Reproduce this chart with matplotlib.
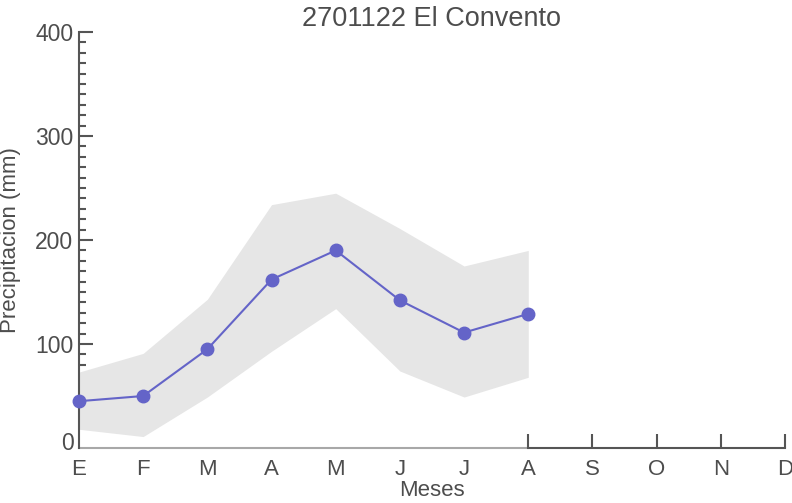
import numpy as np
import matplotlib
matplotlib.use("Agg")
import matplotlib.pyplot as plt
from matplotlib.ticker import FixedLocator
import matplotlib.transforms as mtransforms

# datos
meses = ["E", "F", "M", "A", "M", "J", "J", "A", "S", "O", "N", "D"]
precip = [45, 50, 95, 162, 190, 142, 111, 129]
banda_sup = [73, 91, 143, 234, 245, 211, 175, 190]
banda_inf = [18, 11, 49, 93, 134, 74, 49, 68]

gris = "#4d4d4d"
plt.rcParams["font.family"] = ["Liberation Sans", "DejaVu Sans"]

fig = plt.figure(figsize=(7.92, 5.03), dpi=100)
ax = fig.add_axes([79/792, 55/503, 706/792, 416/503])

x = np.arange(len(precip))
ax.fill_between(x, banda_inf, banda_sup, color="#e6e6e6", lw=0, zorder=1)
ax.plot(x, precip, color="#6464c8", lw=1.5, marker="o", ms=9, zorder=4,
        clip_on=False)

ax.set_xlim(0, 11)
ax.set_ylim(0, 400)

for s in ["top", "right", "bottom"]:
    ax.spines[s].set_visible(False)
ax.spines["left"].set_color("#555555")
ax.spines["left"].set_linewidth(1.5)

# eje x: linea clara hasta A, oscura despues
ax.plot([0, 7], [0, 0], color="#a8a8a8", lw=1.5, clip_on=False, zorder=2)
ax.plot([7, 11], [0, 0], color="#555555", lw=1.5, clip_on=False, zorder=2)

ax.set_xticks(range(12))
ax.set_xticklabels(meses)
ax.tick_params(axis="x", direction="in", length=10, width=1.5, color="#555555",
               labelsize=16, labelcolor=gris, pad=8)
for i, t in enumerate(ax.xaxis.get_major_ticks()):
    if i < 7:
        t.tick1line.set_visible(False)

ax.set_yticks([0, 100, 200, 300, 400])
ax.yaxis.set_minor_locator(FixedLocator([v for v in range(80, 400, 10) if v % 100]))
ax.tick_params(axis="y", which="major", direction="in", length=10, width=1.5,
               color="#555555", labelsize=16.5, labelcolor=gris, pad=4)
ax.tick_params(axis="y", which="minor", direction="in", length=5, width=1.5,
               color="#555555")
ytk = ax.yaxis.get_major_ticks()
ytk[0].tick1line.set_visible(False)
ytk[0].label1.set_transform(ytk[0].label1.get_transform() +
                            mtransforms.ScaledTranslation(0, 7/100, fig.dpi_scale_trans))

ax.set_title("2701122 El Convento", fontsize=19.5, color=gris, pad=4)
ax.set_xlabel("Meses", fontsize=16, color=gris, labelpad=0)
ax.set_ylabel("Precipitacion (mm)", fontsize=16, color=gris, labelpad=10)

fig.savefig("out.png", dpi=100)
